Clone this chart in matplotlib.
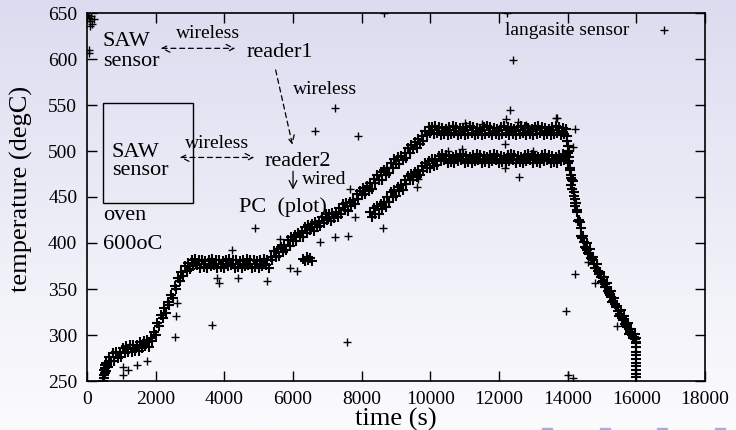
import numpy as np
import matplotlib
matplotlib.use("Agg")
import matplotlib.pyplot as plt
from matplotlib.patches import Rectangle

plt.rcParams['font.family'] = ['Liberation Serif', 'DejaVu Serif']

# upper band (sensor trace 1): time (s), temperature (degC)
t_upper = [480, 490, 500, 510, 500, 520, 530, 540,
           550, 600, 650, 700, 750, 800, 850, 900, 950, 1000,
           1050, 1100, 1150, 1200, 1250, 1300, 1350, 1400, 1450, 1500,
           1550, 1600, 1650, 1700, 1750, 1800, 1850, 1900, 1950, 2000,
           2050, 2100, 2150, 2200, 2250, 2300, 2350, 2400, 2450, 2500,
           2550, 2600, 2650, 2700, 2750, 2800, 2850, 2900, 2950, 3000,
           3050, 3100, 3150, 3200, 3250, 3300, 3350, 3400, 3450, 3500,
           3550, 3600, 3650, 3700, 3750, 3800, 3850, 3900, 3950, 4000,
           4050, 4100, 4150, 4200, 4250, 4300, 4350, 4400, 4450, 4500,
           4550, 4600, 4650, 4700, 4750, 4800, 4850, 4900, 4950, 5000,
           5050, 5100, 5150, 5200, 5250, 5300, 5350, 5400, 5450, 5500,
           5550, 5600, 5650, 5700, 5750, 5800, 5850, 5900, 5950, 6000,
           6050, 6100, 6150, 6200, 6250, 6300, 6350, 6400, 6450, 6500,
           6550, 6600, 6650, 6700, 6750, 6800, 6850, 6900, 6950, 7000,
           7050, 7100, 7150, 7200, 7250, 7300, 7350, 7400, 7450, 7500,
           7550, 7600, 7650, 7700, 7750, 7800, 7850, 7900, 7950, 8000,
           8050, 8100, 8150, 8200, 8250, 8300, 8350, 8400, 8450, 8500,
           8550, 8600, 8650, 8700, 8750, 8800, 8850, 8900, 8950, 9000,
           9050, 9100, 9150, 9200, 9250, 9300, 9350, 9400, 9450, 9500,
           9550, 9600, 9650, 9700, 9750, 9800, 9850, 9900, 9950, 10000,
           10050, 10100, 10150, 10200, 10250, 10300, 10350, 10400, 10450, 10500,
           10550, 10600, 10650, 10700, 10750, 10800, 10850, 10900, 10950, 11000,
           11050, 11100, 11150, 11200, 11250, 11300, 11350, 11400, 11450, 11500,
           11550, 11600, 11650, 11700, 11750, 11800, 11850, 11900, 11950, 12000,
           12050, 12100, 12150, 12200, 12250, 12300, 12350, 12400, 12450, 12500,
           12550, 12600, 12650, 12700, 12750, 12800, 12850, 12900, 12950, 13000,
           13050, 13100, 13150, 13200, 13250, 13300, 13350, 13400, 13450, 13500,
           13550, 13600, 13650, 13700, 13750, 13800, 13850, 13900, 13950,
           14000, 14050, 14100, 14150, 14200, 14250, 14300, 14350, 14400, 14450,
           14500, 14550, 14600, 14650, 14700, 14750, 14800, 14850, 14900, 14950,
           15000, 15050, 15100, 15150, 15200, 15250, 15300, 15350, 15400, 15450,
           15500, 15550, 15600, 15650, 15700, 15750, 15800, 15850, 15900, 15950,
           16000,
           13975, 14025, 14075, 14125, 14175, 14225, 14275, 14325, 14375,
           13990, 14010, 14040, 14060, 14090, 14110, 14140, 14190, 14210, 14260,
           14425, 14475, 14525, 14575, 14625, 14675, 14725, 14775, 14825, 14875,
           14925, 14975, 15025, 15075, 15125, 15175, 15225, 15275, 15325, 15375,
           15425, 15475, 15525, 15575, 15625, 15675, 15725, 15775, 15825, 15875,
           15925, 15975,
           16000, 16000, 16000, 16000, 16000, 16000, 16000, 16000, 16000, 16000, 16000]
y_upper = [250, 253, 256, 259, 262, 264, 267, 261,
           270, 265, 276, 272, 280, 272, 281, 275, 282, 276,
           286, 280, 288, 282, 289, 281, 289, 283, 289, 283,
           292, 286, 294, 288, 295, 287, 297, 293, 303, 300,
           313, 310, 322, 319, 329, 324, 336, 333, 343, 340,
           353, 350, 362, 359, 369, 364, 375, 370, 378, 372,
           382, 375, 383, 376, 382, 373, 381, 374, 380, 373,
           382, 375, 383, 376, 382, 373, 381, 374, 380, 373,
           382, 375, 383, 376, 382, 373, 381, 374, 380, 373,
           382, 375, 383, 376, 382, 373, 381, 374, 380, 373,
           382, 375, 383, 376, 382, 373, 385, 381, 391, 385,
           393, 386, 396, 390, 398, 392, 403, 397, 407, 402,
           409, 402, 411, 406, 413, 407, 417, 411, 420, 414,
           421, 413, 423, 417, 424, 418, 428, 422, 431, 425,
           432, 424, 433, 427, 434, 428, 438, 432, 442, 436,
           443, 435, 445, 440, 447, 442, 453, 448, 457, 452,
           460, 453, 462, 457, 465, 459, 470, 465, 474, 469,
           477, 469, 479, 474, 482, 476, 487, 482, 491, 486,
           493, 486, 495, 490, 498, 492, 503, 498, 507, 502,
           510, 503, 513, 508, 516, 511, 522, 517, 526, 520,
           526, 519, 527, 520, 526, 517, 525, 518, 524, 517,
           526, 519, 527, 520, 526, 517, 525, 518, 524, 517,
           526, 519, 527, 520, 526, 517, 525, 518, 524, 517,
           526, 519, 527, 520, 526, 517, 525, 518, 524, 517,
           526, 519, 527, 520, 526, 517, 525, 518, 524, 517,
           526, 519, 527, 520, 526, 517, 525, 518, 524, 517,
           526, 519, 527, 520, 526, 517, 525, 518, 524, 517,
           526, 519, 527, 520, 526, 517, 525, 518, 524,
           505, 494, 471, 467, 448, 443, 424, 423, 408, 408,
           396, 400, 389, 394, 383, 385, 373, 377, 366, 369,
           358, 363, 352, 357, 346, 348, 336, 340, 330, 332,
           321, 327, 316, 321, 310, 313, 301, 306, 297, 301,
           292,
           516, 500, 482, 468, 455, 444, 434, 425, 416,
           511, 498, 489, 479, 474, 463, 459, 451, 440, 436,
           405, 401, 395, 392, 388, 384, 381, 377, 373, 370,
           366, 363, 359, 355, 352, 348, 344, 341, 337, 334,
           330, 326, 323, 319, 316, 312, 309, 306, 303, 300,
           298, 296,
           297, 291, 287, 282, 278, 274, 270, 266, 262, 258, 254]

# lower band (sensor trace 2)
t_lower = [6300, 6350, 6400, 6450, 6500, 6550,
           8250, 8300, 8350, 8400, 8450, 8500, 8550, 8600, 8650, 8700,
           8750, 8800, 8850, 8900, 8950, 9000, 9050, 9100, 9150, 9200,
           9250, 9300, 9350, 9400, 9450, 9500, 9550, 9600, 9650, 9700,
           9750, 9800, 9850, 9900, 9950, 10000, 10050, 10100, 10150, 10200,
           10250, 10300, 10350, 10400, 10450, 10500, 10550, 10600, 10650, 10700,
           10750, 10800, 10850, 10900, 10950, 11000, 11050, 11100, 11150, 11200,
           11250, 11300, 11350, 11400, 11450, 11500, 11550, 11600, 11650, 11700,
           11750, 11800, 11850, 11900, 11950, 12000, 12050, 12100, 12150, 12200,
           12250, 12300, 12350, 12400, 12450, 12500, 12550, 12600, 12650, 12700,
           12750, 12800, 12850, 12900, 12950, 13000, 13050, 13100, 13150, 13200,
           13250, 13300, 13350, 13400, 13450, 13500, 13550, 13600, 13650, 13700,
           13750, 13800, 13850, 13900, 13950, 14000]
y_lower = [383, 380, 385, 381, 384, 380,
           434, 428, 438, 432, 440, 432, 442, 437, 445, 439,
           450, 445, 455, 450, 458, 451, 461, 456, 463, 458,
           469, 464, 473, 468, 475, 468, 477, 472, 479, 474,
           484, 478, 487, 482, 489, 481, 491, 484, 491, 485,
           495, 489, 497, 490, 496, 487, 495, 488, 494, 487,
           496, 489, 497, 490, 496, 487, 495, 488, 494, 487,
           496, 489, 497, 490, 496, 487, 495, 488, 494, 487,
           496, 489, 497, 490, 496, 487, 495, 488, 494, 487,
           496, 489, 497, 490, 496, 487, 495, 488, 494, 487,
           496, 489, 497, 490, 496, 487, 495, 488, 494, 487,
           496, 489, 497, 490, 496, 487, 495, 488, 494, 487,
           496, 489, 497, 490, 496, 487]

# scattered outliers
t_out = [30, 60, 90, 120, 150, 80, 200, 60, 70, 1050, 1050, 1200, 1450, 1750, 2560, 2590, 2620,
         3640, 3850, 3800, 4225, 4400, 4890, 5240, 5620, 5910, 6117, 6790, 7224, 7603, 7574,
         7807, 7661, 8622, 9642, 9613, 6640, 7224, 7894, 8650, 12235, 12410, 16810, 12322,
         12206, 12555, 13660, 14215, 10925, 12177, 12585, 12177, 14157, 14215, 13953, 14157,
         14011, 14590, 14798, 15440, 13690, 11000, 11500, 10500, 13000, 12800]
y_out = [648, 645, 641, 647, 638, 636, 643, 610, 606, 265, 256, 262, 267, 272, 298, 321, 335,
         311, 356, 362, 392, 362, 416, 359, 404, 373, 370, 401, 407, 408, 292,
         428, 459, 416, 470, 461, 522, 547, 516, 650, 650, 599, 632, 545,
         535, 532, 536, 524, 502, 508, 472, 481, 504, 366, 326, 253,
         256, 379, 357, 310, 536, 530, 529, 500, 500, 528]

fig = plt.figure(figsize=(7.36, 4.30), dpi=100)

# beamer-like background gradient
bg = fig.add_axes([0, 0, 1, 1], zorder=-10)
grad = np.linspace(0, 1, 256).reshape(-1, 1)
top = np.array([220, 220, 240]) / 255.0
bot = np.array([252, 252, 254]) / 255.0
img = top * (1 - grad[..., None]) + bot * grad[..., None]
bg.imshow(img, aspect='auto', extent=[0, 1, 0, 1])
bg.axis('off')
for x0 in [542, 600, 657, 715]:
    fig.patches.append(Rectangle((x0 / 736, 0), 10 / 736, 2.5 / 430, transform=fig.transFigure,
                                 color='#aaaadd', zorder=5))

ax = fig.add_axes([87 / 736, 1 - 381 / 430, (705 - 87) / 736, (381 - 13) / 430])
ax.patch.set_alpha(0)

band = dict(linestyle='none', marker='+', color='black', ms=6.5, mew=1.5)
ax.plot(t_upper, y_upper, **band)
ax.plot(t_lower, y_lower, **band)
ax.plot(t_out, y_out, linestyle='none', marker='+', color='black', ms=6, mew=1.0)

ax.set_xlim(0, 18000)
ax.set_ylim(250, 650)
ax.set_xticks(np.arange(0, 18001, 2000))
ax.set_yticks(np.arange(250, 651, 50))
ax.tick_params(direction='in', length=7, width=1, top=True, right=True, labelsize=14, pad=7)
for s in ax.spines.values():
    s.set_linewidth(1.2)
ax.set_xlabel('time (s)', fontsize=19, labelpad=0)
ax.set_ylabel('temperature (degC)', fontsize=19)
ax.yaxis.set_label_coords(-0.087, 0.522)

fs = 16
ax.text(466, 614, 'SAW', fontsize=fs)
ax.text(466, 592, 'sensor', fontsize=fs)
ax.text(2593, 622.5, 'wireless', fontsize=14)
ax.annotate('', xy=(4399, 611.6), xytext=(2068, 611.6),
            arrowprops=dict(arrowstyle='<->', linestyle=(0, (4, 3)), lw=0.9, mutation_scale=14))
ax.text(4661, 602, 'reader1', fontsize=fs)
ax.annotate('', xy=(6001, 504), xytext=(5477, 591),
            arrowprops=dict(arrowstyle='->', linestyle=(0, (4, 3)), lw=0.9, mutation_scale=14))
ax.text(6001, 562.4, 'wireless', fontsize=14)

ax.add_patch(Rectangle((466, 444), 3088 - 466, 552 - 444, fill=False, lw=1.0, ec='black'))
ax.text(728, 494, 'SAW', fontsize=fs)
ax.text(728, 474, 'sensor', fontsize=fs)
ax.text(2855, 503.3, 'wireless', fontsize=14)
ax.annotate('', xy=(4952, 493), xytext=(2622, 493),
            arrowprops=dict(arrowstyle='<->', linestyle=(0, (4, 3)), lw=0.9, mutation_scale=14))
ax.text(5185, 483.7, 'reader2', fontsize=fs)
ax.annotate('', xy=(6001, 455), xytext=(6001, 481),
            arrowprops=dict(arrowstyle='->', lw=0.9, mutation_scale=14))
ax.text(6263, 464.6, 'wired', fontsize=14)
ax.text(4428, 433.7, 'PC  (plot)', fontsize=fs)
ax.text(466, 424.5, 'oven', fontsize=fs)
ax.text(466, 394, '600oC', fontsize=fs)
ax.text(12176, 625.8, 'langasite sensor', fontsize=14)

fig.savefig('out.png', dpi=100)
